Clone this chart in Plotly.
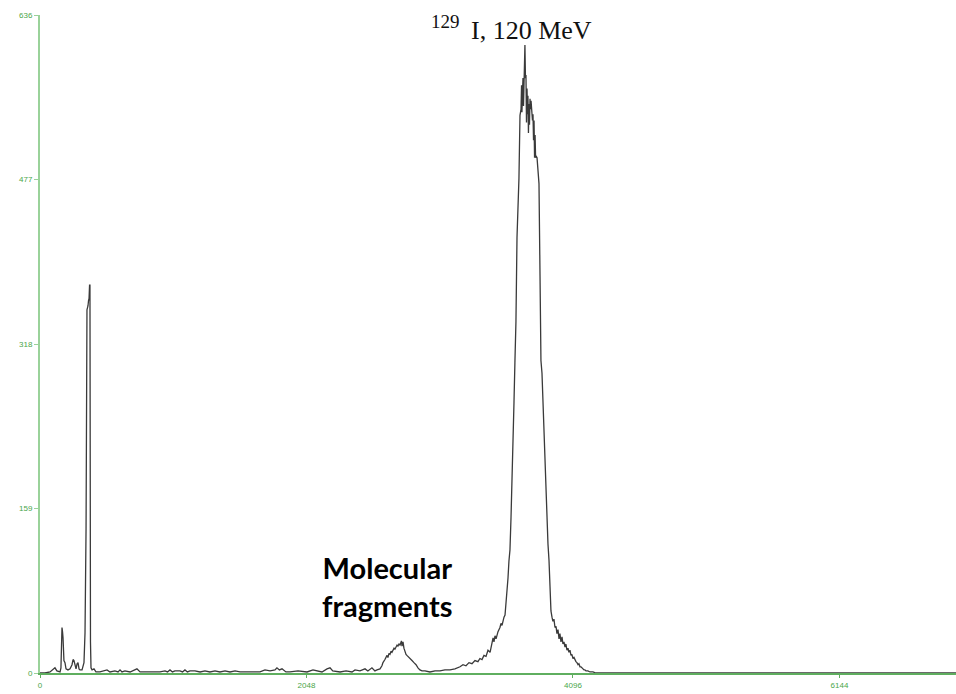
import plotly.graph_objects as go

# Spectrum data: channel numbers and counts
channels = [
    0, 38, 77, 100, 115, 130, 154, 161, 169, 173, 177, 184, 192, 200, 215, 231, 246, 254, 261, 269,
    277, 285, 292, 300, 307, 323, 338, 346, 354, 361, 369, 373, 377, 381, 384, 388, 392, 400, 415, 430,
    461, 515, 538, 576, 600, 615, 630, 653, 692, 745, 769, 845, 922, 961, 980, 999, 1018, 1037, 1076, 1095,
    1114, 1133, 1153, 1191, 1230, 1268, 1306, 1345, 1383, 1422, 1460, 1499, 1537, 1614, 1691, 1729, 1768, 1806, 1821, 1840,
    1860, 1890, 1921, 1983, 2052, 2098, 2136, 2167, 2206, 2229, 2250, 2306, 2352, 2398, 2421, 2459, 2498, 2520, 2551, 2574,
    2590, 2613, 2628, 2636, 2651, 2667, 2674, 2682, 2690, 2698, 2705, 2713, 2721, 2728, 2736, 2744, 2751, 2759, 2767, 2774,
    2778, 2782, 2790, 2797, 2805, 2813, 2820, 2828, 2843, 2859, 2874, 2890, 2905, 2920, 2936, 2959, 2997, 3036, 3074, 3112,
    3151, 3189, 3228, 3251, 3274, 3297, 3320, 3343, 3366, 3381, 3397, 3412, 3428, 3443, 3459, 3474, 3482, 3489, 3497, 3505,
    3520, 3535, 3543, 3551, 3558, 3566, 3574, 3581, 3589, 3597, 3604, 3612, 3620, 3627, 3635, 3643, 3650, 3658, 3666, 3673,
    3681, 3689, 3697, 3701, 3704, 3708, 3712, 3716, 3720, 3724, 3727, 3731, 3735, 3739, 3743, 3747, 3750, 3754, 3758, 3762,
    3766, 3770, 3774, 3778, 3781, 3785, 3789, 3793, 3797, 3801, 3805, 3809, 3812, 3820, 3827, 3835, 3843, 3850, 3858, 3866,
    3873, 3881, 3889, 3896, 3904, 3912, 3919, 3927, 3935, 3942, 3950, 3958, 3966, 3973, 3981, 3989, 3996, 4004, 4012, 4019,
    4027, 4035, 4042, 4050, 4058, 4065, 4073, 4081, 4088, 4096, 4104, 4112, 4119, 4127, 4135, 4142, 4150, 4158, 4165, 4173,
    4181, 4188, 4196, 4211, 4227, 4250, 4273, 4400, 5000, 6000, 7040,
]
counts = [
    0, 0, 1, 3, 5, 2, 1, 5, 44, 40, 34, 12, 10, 4, 3, 4, 8, 13, 12, 6,
    4, 9, 10, 4, 3, 3, 10, 39, 140, 351, 355, 360, 362, 375, 375, 30, 5, 3, 4, 1,
    1, 3, 1, 2, 1, 3, 1, 2, 1, 4, 1, 1, 1, 2, 1, 3, 1, 2, 2, 1,
    3, 1, 2, 2, 1, 2, 1, 2, 1, 2, 1, 2, 1, 1, 1, 3, 2, 3, 5, 3,
    4, 1, 1, 2, 1, 3, 2, 1, 4, 5, 2, 1, 2, 1, 3, 2, 4, 2, 5, 2,
    3, 4, 7, 10, 13, 17, 15, 19, 18, 21, 20, 22, 24, 23, 25, 27, 26, 28, 27, 29,
    31, 26, 30, 24, 20, 18, 17, 16, 15, 12, 10, 8, 5, 3, 2, 2, 1, 2, 2, 3,
    3, 4, 6, 8, 7, 10, 9, 12, 11, 14, 13, 17, 16, 22, 20, 28, 34, 30, 36, 33,
    40, 44, 48, 46, 51, 54, 56, 65, 80, 92, 108, 119, 150, 195, 232, 262, 300, 340, 421, 450,
    478, 539, 545, 568, 542, 560, 575, 548, 570, 590, 607, 575, 578, 532, 565, 540, 558, 522, 550, 530,
    555, 545, 553, 540, 548, 534, 540, 515, 534, 498, 520, 498, 500, 498, 480, 473, 383, 302, 290, 260,
    230, 215, 180, 150, 125, 109, 80, 60, 54, 50, 52, 44, 45, 38, 42, 33, 38, 30, 35, 28,
    30, 25, 28, 22, 24, 20, 22, 17, 18, 14, 15, 12, 11, 10, 8, 9, 6, 6, 5, 4,
    3, 3, 2, 2, 1, 1, 0, 0, 0, 0, 0,
]

x_tick_vals = [0, 2048, 4096, 6144]
x_tick_text = ["0", "2048", "4096", "6144"]
y_tick_vals = [0, 159, 318, 477, 636]
y_tick_text = ["0", "159", "318", "477", "636"]

mass_text = "129"
title_text = "I, 120 MeV"
frag_text = "Molecular<br>fragments"

green_line = "#9ad29a"
green_text = "#4aa64a"

fig = go.Figure()
fig.add_trace(go.Scatter(
    x=channels, y=counts, mode="lines",
    line=dict(color="#3a3a3a", width=1.3),
    hoverinfo="skip", showlegend=False,
))

fig.update_layout(
    width=956, height=694,
    margin=dict(l=40, r=0, t=15, b=21),
    paper_bgcolor="white", plot_bgcolor="white",
    font=dict(family="Liberation Sans", size=8, color=green_text),
    xaxis=dict(
        range=[0, 7040], tickvals=x_tick_vals, ticktext=x_tick_text,
        showgrid=False, zeroline=False, showline=True, linecolor="#5fae5f", linewidth=2,
        ticks="outside", ticklen=3, tickcolor="#5fae5f", tickwidth=1,
        tickfont=dict(family="Liberation Sans", size=8, color=green_text),
        fixedrange=True,
    ),
    yaxis=dict(
        range=[0, 636], tickvals=y_tick_vals, ticktext=y_tick_text,
        showgrid=False, zeroline=False, showline=True, linecolor=green_line, linewidth=2,
        ticks="outside", ticklen=4, tickcolor=green_line, tickwidth=1,
        tickfont=dict(family="Liberation Sans", size=8, color=green_text),
        fixedrange=True,
    ),
    annotations=[
        dict(text=mass_text, x=3240, xref="x", y=0.99, yref="paper",
             showarrow=False, xanchor="right", yanchor="middle",
             font=dict(family="Liberation Serif", size=19, color="#111111")),
        dict(text=title_text, x=3300, xref="x", y=0.977, yref="paper",
             showarrow=False, xanchor="left", yanchor="middle",
             font=dict(family="Liberation Serif", size=26, color="#111111")),
        dict(text=frag_text, x=2674, xref="x", y=0.132, yref="paper",
             showarrow=False, xanchor="center", yanchor="middle", align="center",
             font=dict(family="Lato", size=29, color="#000000", weight="bold")),
    ],
)

fig.write_html("out.html")
